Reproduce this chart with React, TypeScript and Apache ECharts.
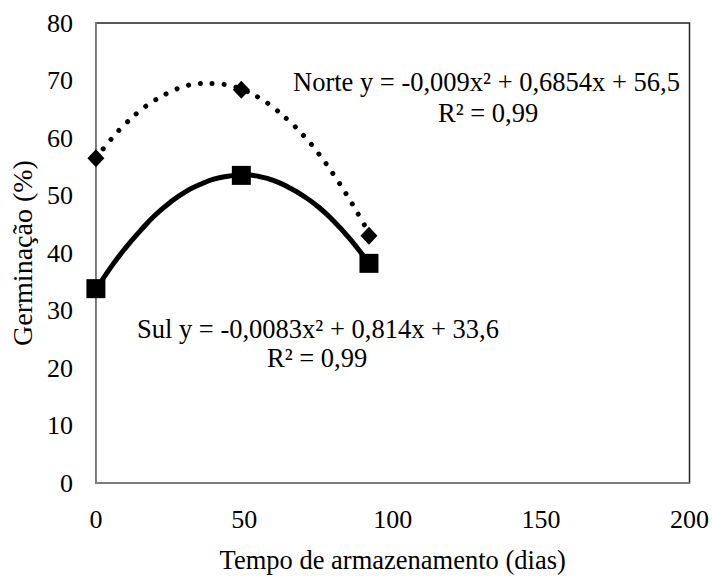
import React, { useEffect, useRef } from "react";
import * as echarts from "echarts";

// observed points (dias, germinação %)
const norteX = [0, 49, 92];
const norteY = [56.5, 68.4, 43];
const sulX = [0, 49, 92];
const sulY = [33.8, 53.5, 38.2];

// trend curves
const trendX = [0, 5, 10, 15, 20, 25, 30, 35, 40, 45, 50, 55, 60, 65, 70, 75, 80, 85, 90, 92];
const norteTrendY = [56.5, 59.7, 62.5, 64.8, 66.6, 68.0, 69.0, 69.5, 69.5, 69.1, 68.3, 67.0, 65.2, 63.0, 60.4, 57.3, 53.7, 49.7, 45.3, 43.4];
const sulTrendY = [33.6, 37.5, 40.9, 43.9, 46.6, 48.8, 50.6, 51.9, 52.9, 53.4, 53.6, 53.3, 52.6, 51.4, 49.9, 48.0, 45.6, 42.8, 39.6, 38.2];

const xTicks = [0, 50, 100, 150, 200];
const yTicks = [0, 10, 20, 30, 40, 50, 60, 70, 80];

const norteEq = "Norte y = -0,009x² + 0,6854x + 56,5";
const norteR2 = "R² = 0,99";
const sulEq = "Sul y = -0,0083x² + 0,814x + 33,6";
const sulR2 = "R² = 0,99";

const FONT = "'Liberation Serif', 'Times New Roman', serif";

const zip = (xs: number[], ys: number[]) => xs.map((x, i) => [x, ys[i]]);

export default function App() {
  const ref = useRef<HTMLDivElement>(null);
  useEffect(() => {
    if (!ref.current) return;
    const chart = echarts.init(ref.current, undefined, { renderer: "svg" });
    chart.setOption({
      animation: false,
      backgroundColor: "#fff",
      grid: {
        left: 93,
        top: 23,
        right: 22,
        bottom: 89,
        show: true,
        borderColor: "#222",
        borderWidth: 1.5,
      },
      xAxis: {
        type: "value",
        min: xTicks[0],
        max: xTicks[xTicks.length - 1],
        interval: 50,
        name: "Tempo de armazenamento (dias)",
        nameLocation: "middle",
        nameGap: 63,
        nameTextStyle: { fontFamily: FONT, fontSize: 26.5, color: "#000" },
        axisLine: { show: true, lineStyle: { color: "#888", width: 1.5 } },
        axisTick: { show: false },
        splitLine: { show: false },
        axisLabel: { fontFamily: FONT, fontSize: 26, color: "#000", margin: 23 },
      },
      yAxis: {
        type: "value",
        min: yTicks[0],
        max: yTicks[yTicks.length - 1],
        interval: 10,
        name: "Germinação (%)",
        nameLocation: "middle",
        nameGap: 55,
        nameTextStyle: { fontFamily: FONT, fontSize: 28, color: "#000" },
        axisLine: { show: true, lineStyle: { color: "#888", width: 1.5 } },
        axisTick: { show: false },
        splitLine: { show: false },
        axisLabel: { fontFamily: FONT, fontSize: 26, color: "#000", margin: 23 },
      },
      series: [
        {
          name: "Norte tendência",
          type: "line",
          data: zip(trendX, norteTrendY),
          smooth: true,
          showSymbol: false,
          lineStyle: { color: "#000", width: 5, type: [0.01, 12], cap: "round" },
          z: 2,
        },
        {
          name: "Sul tendência",
          type: "line",
          data: zip(trendX, sulTrendY),
          smooth: true,
          showSymbol: false,
          lineStyle: { color: "#000", width: 5 },
          z: 2,
        },
        {
          name: "Norte",
          type: "scatter",
          data: zip(norteX, norteY),
          symbol: "diamond",
          symbolSize: [17, 18],
          itemStyle: { color: "#000", opacity: 1 },
          z: 3,
        },
        {
          name: "Sul",
          type: "scatter",
          data: zip(sulX, sulY),
          symbol: "rect",
          symbolSize: 19,
          itemStyle: { color: "#000", opacity: 1 },
          z: 3,
        },
      ],
      graphic: [
        {
          type: "text",
          left: 293,
          top: 68,
          style: { text: norteEq, font: `26.5px ${FONT}`, fill: "#000" },
        },
        {
          type: "text",
          left: 438,
          top: 99,
          style: { text: norteR2, font: `26.5px ${FONT}`, fill: "#000" },
        },
        {
          type: "text",
          left: 137,
          top: 315,
          style: { text: sulEq, font: `26.5px ${FONT}`, fill: "#000" },
        },
        {
          type: "text",
          left: 267,
          top: 344,
          style: { text: sulR2, font: `26.5px ${FONT}`, fill: "#000" },
        },
      ],
    });
    return () => chart.dispose();
  }, []);
  return (
    <div
      ref={ref}
      style={{ position: "fixed", left: 0, top: 0, width: 712, height: 578, background: "#fff" }}
    />
  );
}
